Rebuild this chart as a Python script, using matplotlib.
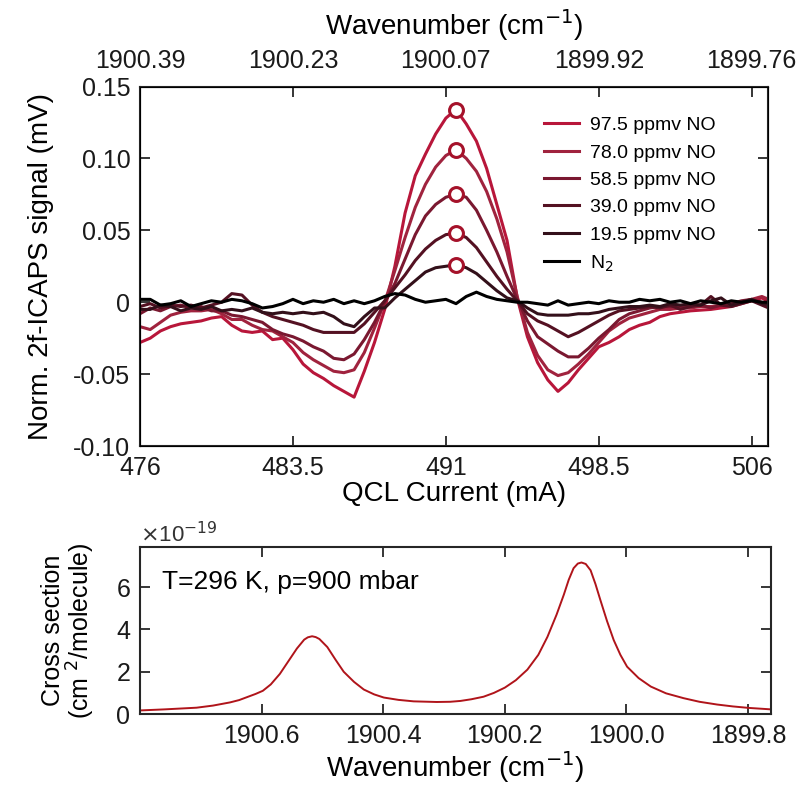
import numpy as np
import matplotlib
matplotlib.use("Agg")
import matplotlib.pyplot as plt

plt.rcParams['font.family'] = ['Liberation Sans', 'DejaVu Sans']
plt.rcParams['axes.unicode_minus'] = False

# QCL current grid (mA)
current = np.arange(476.0, 507.01, 0.5)

# 2f-ICAPS signals (mV)
sig_975 = [-0.028, -0.025, -0.020, -0.017, -0.015, -0.014, -0.013, -0.011, -0.010, -0.016,
           -0.020, -0.021, -0.020, -0.026, -0.025, -0.033, -0.043, -0.049, -0.053, -0.058,
           -0.062, -0.066, -0.048, -0.028, -0.005, 0.025, 0.062, 0.088, 0.103, 0.117,
           0.128, 0.134, 0.124, 0.112, 0.093, 0.068, 0.043, 0.003, -0.024, -0.042,
           -0.054, -0.062, -0.056, -0.047, -0.039, -0.031, -0.028, -0.024, -0.019, -0.016,
           -0.014, -0.010, -0.008, -0.007, -0.006, -0.0055, -0.005, -0.004, -0.003, -0.001,
           0.001, 0.003, -0.001]
sig_780 = [-0.017, -0.019, -0.014, -0.009, -0.007, -0.006, -0.006, -0.005, -0.008, -0.012,
           -0.012, -0.016, -0.019, -0.020, -0.024, -0.028, -0.035, -0.040, -0.044, -0.048,
           -0.049, -0.047, -0.035, -0.018, 0.000, 0.022, 0.045, 0.066, 0.082, 0.094,
           0.102, 0.106, 0.100, 0.091, 0.077, 0.058, 0.035, 0.004, -0.021, -0.037,
           -0.047, -0.051, -0.049, -0.043, -0.036, -0.028, -0.020, -0.015, -0.011, -0.009,
           -0.007, -0.005, -0.005, -0.004, -0.004, -0.003, -0.003, -0.002, -0.002, 0.000,
           0.002, 0.004, 0.001]
sig_585 = [-0.008, -0.004, -0.006, -0.003, -0.002, -0.004, -0.003, -0.006, -0.006, -0.009,
           -0.010, -0.012, -0.014, -0.019, -0.022, -0.024, -0.027, -0.031, -0.034, -0.039,
           -0.040, -0.036, -0.026, -0.014, 0.000, 0.013, 0.030, 0.047, 0.060, 0.068,
           0.073, 0.075, 0.073, 0.064, 0.050, 0.035, 0.018, 0.002, -0.013, -0.024,
           -0.029, -0.034, -0.038, -0.038, -0.032, -0.025, -0.019, -0.012, -0.008, -0.006,
           -0.004, -0.003, -0.003, -0.003, -0.002, -0.002, -0.004, -0.002, -0.001, 0.001,
           0.002, 0.000, -0.002]
sig_390 = [-0.003, -0.001, -0.004, -0.002, -0.003, -0.002, -0.004, -0.002, 0.000, 0.006,
           0.005, -0.002, -0.007, -0.010, -0.012, -0.014, -0.016, -0.019, -0.021, -0.021,
           -0.021, -0.021, -0.015, -0.007, 0.001, 0.010, 0.019, 0.029, 0.037, 0.043,
           0.047, 0.048, 0.045, 0.038, 0.028, 0.018, 0.009, 0.001, -0.008, -0.013,
           -0.016, -0.020, -0.024, -0.021, -0.017, -0.013, -0.009, -0.006, -0.005, -0.004,
           -0.003, -0.004, -0.002, -0.005, -0.003, -0.002, 0.004, -0.002, -0.003, -0.001,
           0.001, -0.002, -0.005]
sig_195 = [-0.005, -0.005, -0.002, -0.003, -0.006, -0.004, -0.005, -0.003, -0.006, -0.005,
           -0.006, -0.004, -0.007, -0.008, -0.007, -0.008, -0.007, -0.008, -0.007, -0.010,
           -0.015, -0.017, -0.010, -0.004, -0.004, 0.003, 0.009, 0.015, 0.021, 0.024,
           0.025, 0.026, 0.024, 0.020, 0.014, 0.008, 0.003, 0.001, -0.004, -0.008,
           -0.009, -0.009, -0.009, -0.008, -0.008, -0.007, -0.005, -0.004, -0.003, -0.003,
           -0.002, -0.003, -0.001, -0.002, -0.001, -0.002, 0.001, 0.003, -0.002, 0.000,
           0.002, -0.001, -0.002]
sig_n2 = [0.002, 0.002, -0.002, -0.001, 0.001, -0.003, -0.001, 0.001, 0.000, 0.002,
          0.001, -0.001, -0.004, -0.003, -0.001, 0.002, -0.001, 0.001, 0.000, 0.002,
          -0.001, 0.001, -0.001, 0.001, 0.004, 0.006, 0.005, 0.002, 0.000, 0.001,
          0.002, -0.001, 0.004, 0.007, 0.004, 0.002, 0.001, 0.000, 0.000, -0.001,
          -0.002, 0.001, -0.002, -0.001, 0.000, -0.001, 0.001, 0.000, 0.000, 0.002,
          0.001, 0.002, 0.000, 0.001, -0.001, 0.001, 0.000, -0.001, 0.001, 0.000,
          0.001, 0.000, 0.000]

labels = ['97.5 ppmv NO', '78.0 ppmv NO', '58.5 ppmv NO', '39.0 ppmv NO', '19.5 ppmv NO', 'N$_2$']
colors = ['#b8163a', '#a0233e', '#7a1830', '#541122', '#33101a', '#000000']

# top axis: wavenumber labels at the current ticks
cur_ticks = [476, 483.5, 491, 498.5, 506]
cur_labels = ['476', '483.5', '491', '498.5', '506']
wn_top_labels = ['1900.39', '1900.23', '1900.07', '1899.92', '1899.76']

# cross section (x1e-19 cm^2/molecule)
wn = [1900.80, 1900.76, 1900.707, 1900.68, 1900.652, 1900.637, 1900.624, 1900.61, 1900.598,
      1900.585, 1900.570, 1900.556, 1900.542, 1900.530, 1900.524, 1900.517, 1900.511, 1900.505,
      1900.492, 1900.478, 1900.465, 1900.448, 1900.432, 1900.415, 1900.399, 1900.375, 1900.35,
      1900.312, 1900.290, 1900.273, 1900.255, 1900.235, 1900.218, 1900.200, 1900.182, 1900.163,
      1900.145, 1900.130, 1900.115, 1900.103, 1900.095, 1900.087, 1900.080, 1900.074, 1900.067,
      1900.059, 1900.051, 1900.043, 1900.032, 1900.021, 1900.010, 1899.999, 1899.98, 1899.96,
      1899.935, 1899.906, 1899.88, 1899.851, 1899.825, 1899.799, 1899.762]
xsec = [0.17, 0.22, 0.30, 0.40, 0.55, 0.66, 0.80, 0.95, 1.10,
        1.40, 1.90, 2.50, 3.10, 3.52, 3.63, 3.68, 3.64, 3.55,
        3.17, 2.55, 2.00, 1.52, 1.16, 0.93, 0.78, 0.67, 0.60,
        0.57, 0.58, 0.62, 0.70, 0.82, 1.00, 1.25, 1.60, 2.10,
        2.80, 3.65, 4.70, 5.65, 6.35, 6.90, 7.12, 7.17, 7.10,
        6.80, 6.15, 5.40, 4.40, 3.50, 2.80, 2.24, 1.70, 1.30,
        0.98, 0.75, 0.58, 0.45, 0.36, 0.29, 0.22]

fig = plt.figure(figsize=(8.01, 7.85), dpi=100)

spine_c = '#262626'
tick_kw = dict(direction='in', length=7, width=1.3, labelsize=18, colors=spine_c, labelcolor='#1a1a1a')

ax = fig.add_axes([0.1748, 0.4318, 0.784, 0.458])
for y, lab, c in zip([sig_975, sig_780, sig_585, sig_390, sig_195, sig_n2], labels, colors):
    ax.plot(current, y, color=c, lw=2.2, label=lab)
# open circles at the 2f peak of every NO trace
for y in [sig_975, sig_780, sig_585, sig_390, sig_195]:
    i = int(np.argmax(y))
    ax.plot(current[i], y[i], 'o', ms=10, mfc='white', mec='#a5122a', mew=2.2, zorder=5)

ax.set_xlim(476, 506.8)
ax.set_ylim(-0.10, 0.15)
ax.set_xticks(cur_ticks)
ax.set_xticklabels(cur_labels)
ax.set_yticks([-0.10, -0.05, 0, 0.05, 0.10, 0.15])
ax.set_yticklabels(['-0.10', '-0.05', '0', '0.05', '0.10', '0.15'])
ax.set_xlabel('QCL Current (mA)', fontsize=20, labelpad=1)
ax.set_ylabel('Norm. 2f-ICAPS signal (mV)', fontsize=20, labelpad=14)
ax.tick_params(right=True, **tick_kw)
ax.tick_params(axis='x', pad=7)
ax.tick_params(axis='y', pad=7)
for s in ax.spines.values():
    s.set_linewidth(1.5)
    s.set_color(spine_c)
ax.legend(loc='upper left', bbox_to_anchor=(0.615, 0.965), frameon=False, fontsize=14,
          handlelength=1.8, labelspacing=0.5, handletextpad=0.6)

ax_top = ax.twiny()
ax_top.set_xlim(ax.get_xlim())
ax_top.set_xticks(cur_ticks)
ax_top.set_xticklabels(wn_top_labels)
ax_top.tick_params(pad=10, **tick_kw)
ax_top.set_xlabel('Wavenumber (cm$^{-1}$)', fontsize=20, labelpad=10)

ax2 = fig.add_axes([0.1748, 0.0904, 0.788, 0.2127])
ax2.plot(wn, xsec, color='#b0141a', lw=1.4)
ax2.set_xlim(1900.80, 1899.762)
ax2.set_ylim(0, 7.9)
ax2.set_xticks([1900.6, 1900.4, 1900.2, 1900.0, 1899.8])
ax2.set_xticklabels(['1900.6', '1900.4', '1900.2', '1900.0', '1899.8'])
ax2.set_yticks([0, 2, 4, 6])
ax2.tick_params(top=True, right=True, **tick_kw)
ax2.tick_params(axis='x', pad=7)
ax2.tick_params(axis='y', pad=7)
for s in ax2.spines.values():
    s.set_linewidth(1.5)
    s.set_color(spine_c)
ax2.set_xlabel('Wavenumber (cm$^{-1}$)', fontsize=20, labelpad=1)
ax2.set_ylabel('Cross section\n(cm $^2$/molecule)', fontsize=18, labelpad=14, linespacing=1.0)
ax2.text(0.035, 0.79, 'T=296 K, p=900 mbar', transform=ax2.transAxes, fontsize=19, va='center')
ax2.text(0.0, 1.03, r'$\times$10$^{-19}$', transform=ax2.transAxes, fontsize=16, color='#333333')

fig.savefig('out.png', dpi=100)
